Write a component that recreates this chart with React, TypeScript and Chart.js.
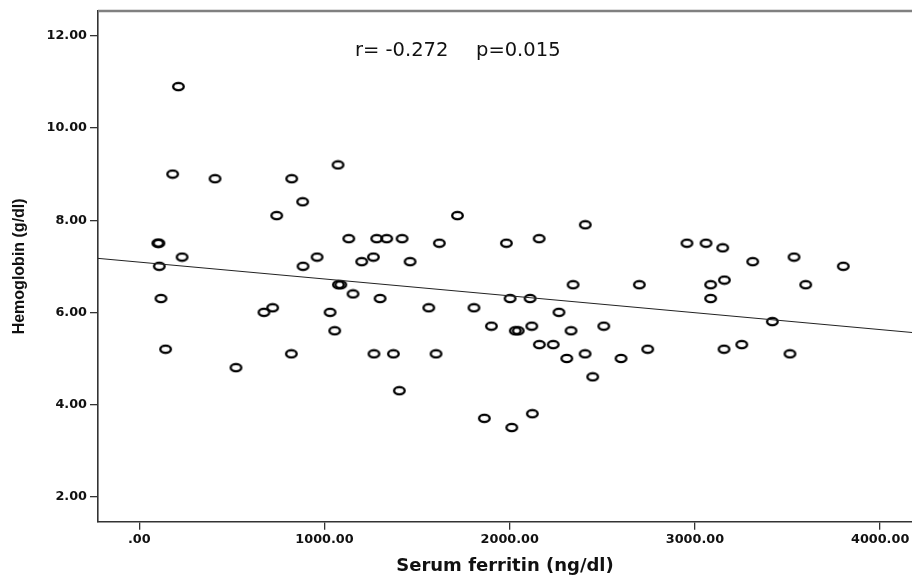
import React, { useEffect, useRef } from "react";
import { Chart, registerables } from "chart.js";

Chart.register(...registerables);

// Serum ferritin (ng/dl)
const ferritin = [
  100, 106, 108, 117, 142, 180, 211, 231, 409, 522,
  673, 720, 742, 821, 823, 882, 884, 960, 1030, 1055,
  1073, 1075, 1088, 1131, 1154, 1201, 1264, 1267, 1282, 1300,
  1336, 1372, 1404, 1419, 1462, 1563, 1602, 1620, 1718, 1807,
  1863, 1901, 1982, 2002, 2011, 2030, 2046, 2110, 2119, 2122,
  2159, 2160, 2235, 2266, 2308, 2331, 2342, 2407, 2408, 2448,
  2508, 2601, 2700, 2745, 2957, 3060, 3085, 3085, 3150, 3159,
  3157, 3253, 3312, 3418, 3513, 3535, 3598, 3801,
];
// Hemoglobin (g/dl)
const hemoglobin = [
  7.5, 7.5, 7.0, 6.3, 5.2, 9.0, 10.9, 7.2, 8.9, 4.8,
  6.0, 6.1, 8.1, 5.1, 8.9, 8.4, 7.0, 7.2, 6.0, 5.6,
  9.2, 6.6, 6.6, 7.6, 6.4, 7.1, 7.2, 5.1, 7.6, 6.3,
  7.6, 5.1, 4.3, 7.6, 7.1, 6.1, 5.1, 7.5, 8.1, 6.1,
  3.7, 5.7, 7.5, 6.3, 3.5, 5.6, 5.6, 6.3, 5.7, 3.8,
  7.6, 5.3, 5.3, 6.0, 5.0, 5.6, 6.6, 5.1, 7.9, 4.6,
  5.7, 5.0, 6.6, 5.2, 7.5, 7.5, 6.6, 6.3, 7.4, 6.7,
  5.2, 5.3, 7.1, 5.8, 5.1, 7.2, 6.6, 7.0,
];

const xTicks = [0, 1000, 2000, 3000, 4000];
const yTicks = [2, 4, 6, 8, 10, 12];

const REG_INTERCEPT = 7.09;
const REG_SLOPE = -0.000366;

const X_MIN = -223;
const X_MAX = 4172;
const Y_MIN = 1.457;
const Y_MAX = 12.54;

const STATS_TEXT_R = "r= -0.272";
const STATS_TEXT_P = "p=0.015";

function makePointImage(): HTMLCanvasElement {
  const c = document.createElement("canvas");
  c.width = 15;
  c.height = 11;
  const ctx = c.getContext("2d")!;
  ctx.strokeStyle = "#000";
  ctx.lineWidth = 2.3;
  ctx.beginPath();
  ctx.ellipse(7.5, 5.5, 5.3, 3.6, 0, 0, Math.PI * 2);
  ctx.stroke();
  return c;
}

const framePlugin = {
  id: "frameAndStats",
  afterDraw(chart: any) {
    const { ctx, chartArea } = chart;
    ctx.save();
    // top border
    ctx.strokeStyle = "#808080";
    ctx.lineWidth = 2.5;
    ctx.beginPath();
    ctx.moveTo(chartArea.left, chartArea.top);
    ctx.lineTo(chartArea.right, chartArea.top);
    ctx.stroke();
    // stats text
    ctx.fillStyle = "#111";
    ctx.font = "19.5px 'DejaVu Sans'";
    ctx.textBaseline = "alphabetic";
    ctx.textAlign = "left";
    ctx.fillText(STATS_TEXT_R, 355, 55.5);
    ctx.fillText(STATS_TEXT_P, 476, 55.5);
    ctx.restore();
  },
};

export default function App() {
  const ref = useRef<HTMLCanvasElement>(null);

  useEffect(() => {
    if (!ref.current) return;
    const pointImg = makePointImage();
    const points = ferritin.map((x, i) => ({ x, y: hemoglobin[i] }));
    const line = [
      { x: X_MIN, y: REG_INTERCEPT + REG_SLOPE * X_MIN },
      { x: X_MAX, y: REG_INTERCEPT + REG_SLOPE * X_MAX },
    ];
    const chart = new Chart(ref.current, {
      type: "scatter",
      data: {
        datasets: [
          {
            type: "line",
            data: line,
            borderColor: "#222",
            borderWidth: 1,
            pointRadius: 0,
            fill: false,
          } as any,
          {
            data: points,
            pointStyle: pointImg as any,
            pointRadius: 6,
          },
        ],
      },
      options: {
        animation: false,
        responsive: false,
        events: [],
        layout: { autoPadding: false, padding: { top: 11, right: 0, left: 0, bottom: 0 } },
        plugins: {
          legend: { display: false },
          tooltip: { enabled: false },
        },
        scales: {
          x: {
            type: "linear",
            min: X_MIN,
            max: X_MAX,
            afterBuildTicks: (axis: any) => {
              axis.ticks = xTicks.map((v) => ({ value: v }));
            },
            afterFit: (axis: any) => {
              axis.height = 59.3;
              axis.paddingLeft = 0;
              axis.paddingRight = 0;
            },
            ticks: {
              color: "#111",
              padding: 2,
              font: { family: "'DejaVu Sans'", size: 12.8, weight: "bold" },
              callback: (v: any) => (v === 0 ? ".00" : Number(v).toFixed(2)),
              maxRotation: 0,
            },
            grid: {
              drawOnChartArea: false,
              drawTicks: true,
              tickLength: 8,
              color: "#333",
              lineWidth: 1.3,
            },
            border: { display: true, color: "#333", width: 1.6 },
            title: {
              display: true,
              text: "Serum ferritin (ng/dl)",
              color: "#111",
              font: { family: "'DejaVu Sans'", size: 18, weight: "bold" },
              padding: { top: 0, bottom: 4 },
            },
          },
          y: {
            type: "linear",
            min: Y_MIN,
            max: Y_MAX,
            afterBuildTicks: (axis: any) => {
              axis.ticks = yTicks.map((v) => ({ value: v }));
            },
            afterFit: (axis: any) => {
              axis.width = 98;
              axis.paddingTop = 0;
              axis.paddingBottom = 0;
            },
            ticks: {
              color: "#111",
              padding: 3,
              font: { family: "'DejaVu Sans'", size: 12.8, weight: "bold" },
              callback: (v: any) => Number(v).toFixed(2),
            },
            grid: {
              drawOnChartArea: false,
              drawTicks: true,
              tickLength: 8,
              color: "#333",
              lineWidth: 1.3,
            },
            border: { display: true, color: "#333", width: 1.6 },
            title: {
              display: true,
              text: "Hemoglobin (g/dl)",
              color: "#111",
              font: { family: "'Liberation Sans'", size: 16, weight: "bold" },
              padding: { top: 10, bottom: 0 },
            },
          },
        },
      },
      plugins: [framePlugin],
    });
    return () => chart.destroy();
  }, []);

  return (
    <div style={{ position: "fixed", left: 0, top: 0, width: 912, height: 581, background: "#fff" }}>
      <canvas ref={ref} width={912} height={581} style={{ display: "block" }} />
    </div>
  );
}
